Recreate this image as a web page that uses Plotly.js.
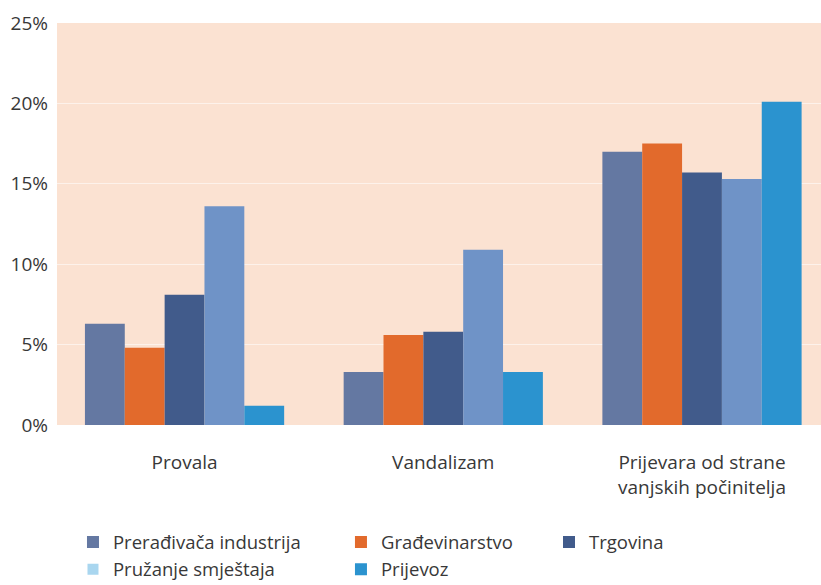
<!DOCTYPE html>
<html>
<head>
<meta charset="utf-8">
<script src="https://cdn.plot.ly/plotly-3.0.1.min.js"></script>
<style>html,body{margin:0;padding:0;background:#fff;}#chart{width:821px;height:585px;}</style>
</head>
<body>
<div id="chart"></div>
<script>
const categories = ["Provala", "Vandalizam", "Prijevara od strane<br>vanjskih počinitelja"];
const seriesNames = ["Prerađivača industrija", "Građevinarstvo", "Trgovina", "Pružanje smještaja", "Prijevoz"];
const preradivacka = [6.3, 3.3, 17.0];
const gradevinarstvo = [4.8, 5.6, 17.5];
const trgovina = [8.1, 5.8, 15.7];
const pruzanjeSmjestaja = [13.6, 10.9, 15.3];
const prijevoz = [1.2, 3.3, 20.1];
const yTickValues = [0, 5, 10, 15, 20, 25];
const yTickLabels = ["0%", "5%", "10%", "15%", "20%", "25%"];

const colors = ["#6478a2", "#e26a2c", "#415b8b", "#6f93c7", "#2b93cf"];
const legendSwatchPruzanje = "#a9d6ef";
const seriesValues = [preradivacka, gradevinarstvo, trgovina, pruzanjeSmjestaja, prijevoz];
const legendIds = ["legend", "legend2", "legend3", "legend", "legend2"];

const font = {family: "Open Sans, sans-serif", size: 19, color: "#383838"};
const legendFont = {family: "Open Sans, sans-serif", size: 18.5, color: "#383838"};

const traces = seriesValues.map((vals, i) => ({
  type: "bar",
  name: seriesNames[i],
  x: categories,
  y: vals,
  marker: {color: colors[i], line: {width: 0}},
  legend: legendIds[i],
  showlegend: i !== 3,
  legendrank: i < 3 ? 1 : 2,
  hoverinfo: "x+y+name"
}));
// legend entry for "Pružanje smještaja" (legend swatch is lighter than its bars)
traces.push({
  type: "scatter",
  mode: "markers",
  name: seriesNames[3],
  x: [null],
  y: [null],
  marker: {symbol: "square", size: 11, color: legendSwatchPruzanje},
  legend: "legend",
  legendrank: 2,
  showlegend: true,
  hoverinfo: "skip"
});

const legendBase = {
  orientation: "v",
  xref: "container",
  yref: "container",
  xanchor: "left",
  yanchor: "top",
  y: 0.105,
  font: legendFont,
  bgcolor: "rgba(0,0,0,0)",
  borderwidth: 0,
  traceorder: "normal"
};

const layout = {
  width: 821,
  height: 585,
  margin: {l: 57, r: 0, t: 23, b: 160, autoexpand: false},
  paper_bgcolor: "#ffffff",
  plot_bgcolor: "#fbe2d2",
  font: font,
  barmode: "group",
  bargap: 0.23,
  bargroupgap: 0,
  xaxis: {
    type: "category",
    range: [-0.493, 2.46],
    showgrid: false,
    zeroline: false,
    showline: false,
    ticks: "",
    tickangle: 0,
    automargin: false,
    ticklabelstandoff: 24,
    tickfont: font
  },
  yaxis: {
    range: [0, 25],
    tickvals: yTickValues,
    ticktext: yTickLabels,
    showgrid: true,
    gridcolor: "rgba(255,255,255,0.55)",
    gridwidth: 1,
    zeroline: false,
    showline: false,
    ticks: "",
    automargin: false,
    ticklabelstandoff: 8,
    tickfont: {family: font.family, size: 19, color: font.color}
  },
  showlegend: true,
  legend: Object.assign({}, legendBase, {x: 0.0889}),
  legend2: Object.assign({}, legendBase, {x: 0.4153}),
  legend3: Object.assign({}, legendBase, {x: 0.6687})
};

Plotly.newPlot("chart", traces, layout, {displayModeBar: false, staticPlot: true});
</script>
</body>
</html>
